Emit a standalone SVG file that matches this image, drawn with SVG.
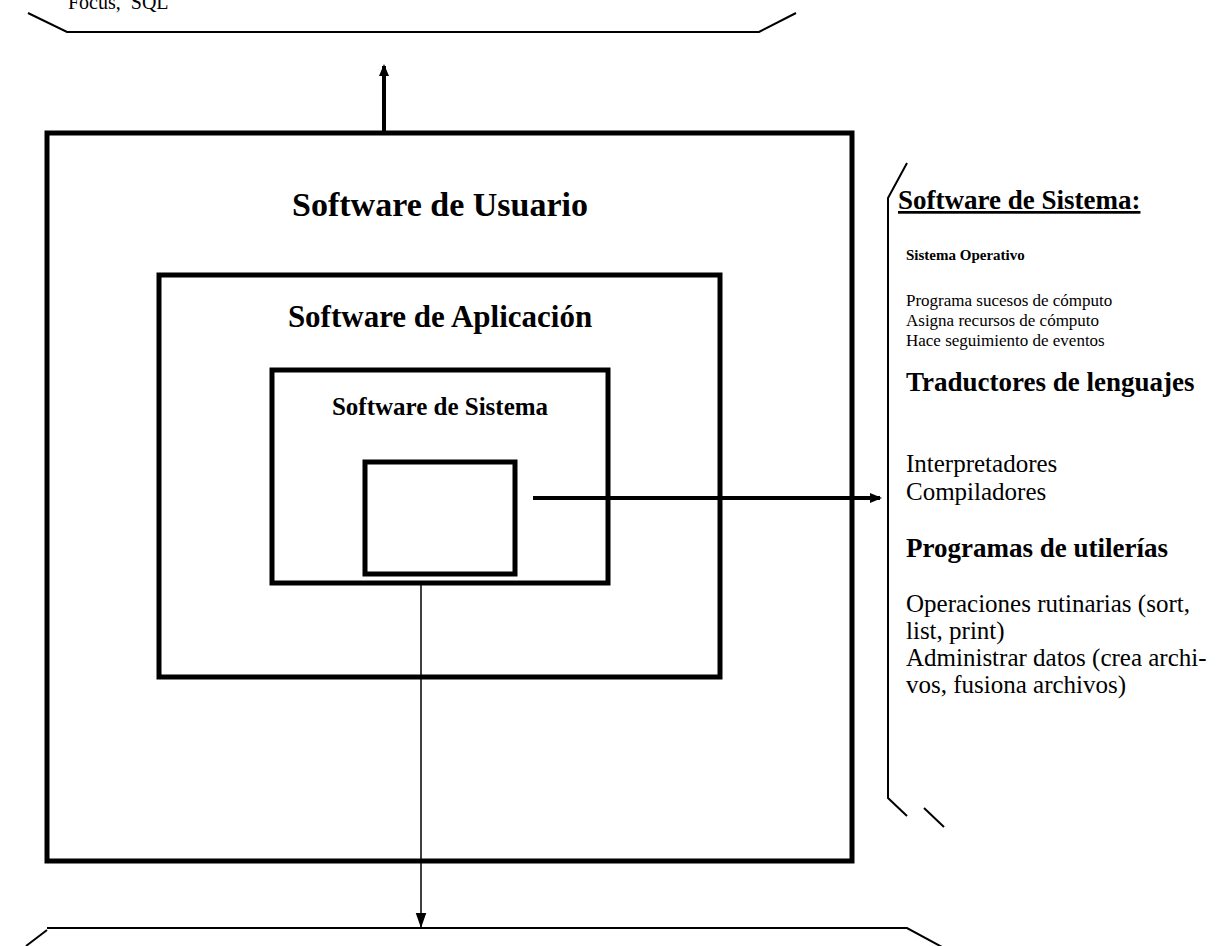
<svg xmlns="http://www.w3.org/2000/svg" width="1223" height="946" viewBox="0 0 1223 946">
<style>
.box{fill:none;stroke:#000;stroke-width:5}
.br{fill:none;stroke:#000;stroke-width:2}
.t{font-family:"Liberation Serif","Times New Roman",serif;fill:#000}
.b{font-weight:bold}
.h{font-size:27px;font-weight:bold}
.s{font-size:17px}
.m{font-size:25px}
</style>
<defs>
<marker id="ah" markerWidth="3" markerHeight="3" refX="2.5" refY="1.25" orient="auto" markerUnits="strokeWidth"><path d="M0,0 L3,1.25 L0,2.5 z" fill="#000"/></marker>
<marker id="ah2" markerWidth="10" markerHeight="10" refX="10" refY="5" orient="auto" markerUnits="strokeWidth"><path d="M0,1.5 L10,5 L0,8.5 z" fill="#000"/></marker>
</defs>
<rect width="1223" height="946" fill="#fff"/>
<g id="top-bracket">
<polyline class="br" points="28,13 67,32 759,32 796,13"/>
<text class="t" x="68" y="9" font-size="20" xml:space="preserve">Focus,  SQL</text>
</g>
<g id="bottom-bracket">
<polyline class="br" points="26,946 47,930"/>
<polyline class="br" points="47,928 907,928 942,947"/>
</g>
<g id="usuario">
<rect class="box" x="47" y="133" width="805" height="728"/>
<text class="t b" x="440" y="216" font-size="34" text-anchor="middle">Software de Usuario</text>
</g>
<g id="aplicacion">
<rect class="box" x="159" y="275" width="561" height="402"/>
<text class="t b" x="440" y="327" font-size="31" text-anchor="middle">Software de Aplicación</text>
</g>
<g id="sistema">
<rect class="box" x="272" y="370" width="336" height="213"/>
<text class="t b" x="440" y="415" font-size="25" text-anchor="middle">Software de Sistema</text>
</g>
<g id="nucleo">
<rect class="box" x="365" y="462" width="150" height="112"/>
</g>
<g id="sistema-detalle">
<polyline class="br" points="907,163 888,198 888,798 907,816"/>
<line class="br" x1="924" y1="808" x2="944" y2="827"/>
<text class="t h" x="898" y="209" text-decoration="underline">Software de Sistema:</text>
<text class="t b" x="906" y="260" font-size="15">Sistema Operativo</text>
<text class="t s" x="906" y="306">Programa sucesos de cómputo</text>
<text class="t s" x="906" y="326">Asigna recursos de cómputo</text>
<text class="t s" x="906" y="346">Hace seguimiento de eventos</text>
<text class="t h" x="906" y="391">Traductores de lenguajes</text>
<text class="t m" x="906" y="472">Interpretadores</text>
<text class="t m" x="906" y="500">Compiladores</text>
<text class="t h" x="906" y="557">Programas de utilerías</text>
<text class="t m" x="906" y="612">Operaciones rutinarias (sort,</text>
<text class="t m" x="906" y="639">list, print)</text>
<text class="t m" x="906" y="666">Administrar datos (crea archi-</text>
<text class="t m" x="906" y="693">vos, fusiona archivos)</text>
</g>
<g id="connectors">
<line x1="384" y1="133" x2="384" y2="66" stroke="#000" stroke-width="4" marker-end="url(#ah)"/>
<line x1="533" y1="498" x2="880" y2="498" stroke="#000" stroke-width="4" marker-end="url(#ah)"/>
<line x1="421" y1="583" x2="421" y2="928" stroke="#000" stroke-width="1.5" marker-end="url(#ah2)"/>
</g>
</svg>
